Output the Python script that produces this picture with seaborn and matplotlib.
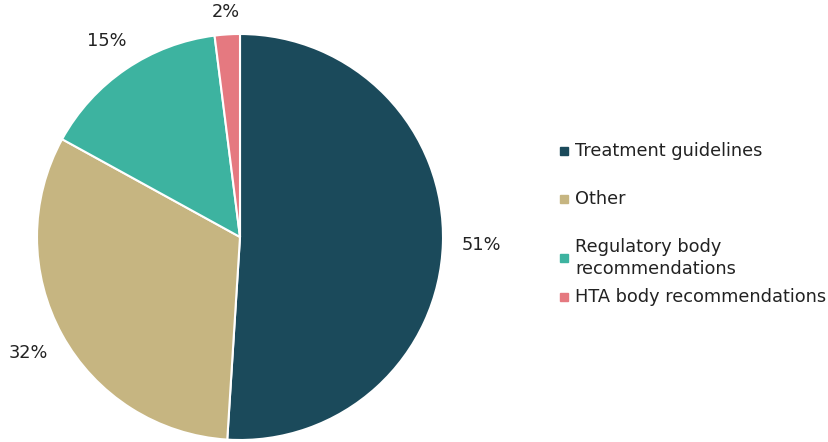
import matplotlib
matplotlib.use("Agg")
import numpy as np
import matplotlib.pyplot as plt
import seaborn as sns

categories = ["Treatment guidelines", "Other", "Regulatory body recommendations", "HTA body recommendations"]
legend_labels = ["Treatment guidelines", "Other", "Regulatory body\nrecommendations", "HTA body recommendations"]
shares = [51, 32, 15, 2]
colors = ["#1B4A5B", "#C6B581", "#3DB3A0", "#E57980"]

sns.set_style("white")
plt.rcParams["font.family"] = ["DejaVu Sans"]

fig = plt.figure(figsize=(8.29, 4.42), dpi=100)
ax = fig.add_axes([37 / 829, 2 / 442, 406 / 829, 406 / 442])

wedges, _, autotexts = ax.pie(shares, colors=colors, startangle=90, counterclock=False,
                              autopct=lambda p: f"{p:.0f}%", pctdistance=1.2,
                              wedgeprops=dict(edgecolor="white", linewidth=1.5),
                              textprops=dict(fontsize=12.8, color="#222222"))
ax.set_aspect("equal")
ax.set_xlim(-1, 1)
ax.set_ylim(-1, 1)

# label distances differ per slice, like the original's best-fit placement
label_dist = [1.19, 1.19, 1.17, 1.11]
for w, t, d in zip(wedges, autotexts, label_dist):
    ang = np.deg2rad((w.theta1 + w.theta2) / 2)
    t.set_position((d * np.cos(ang), d * np.sin(ang)))
    t.set_clip_on(False)

# legend drawn by hand, spacing is uneven in the original
legend_y = [151, 199, 258, 297]
for lab, col, y in zip(legend_labels, colors, legend_y):
    yy = 1 - y / 442
    fig.patches.append(plt.Rectangle((560 / 829, yy - 4 / 442), 8 / 829, 8 / 442,
                                     transform=fig.transFigure, color=col))
    fig.text(575 / 829, yy, lab, fontsize=12.8, va="center", ha="left",
             color="#222222", linespacing=1.35)

plt.savefig("out.png", dpi=100)
plt.close()
